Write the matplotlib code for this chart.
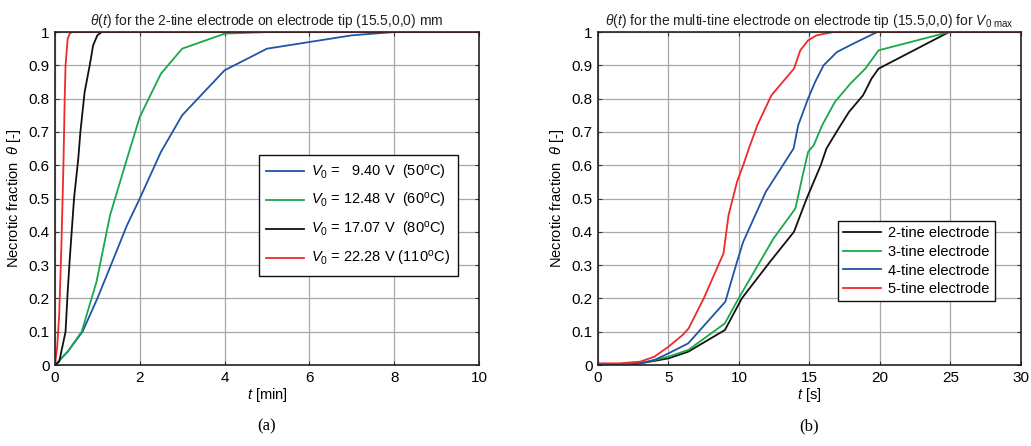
import numpy as np
import matplotlib
matplotlib.use("Agg")
import matplotlib.pyplot as plt

plt.rcParams['font.family'] = ['Liberation Sans', 'DejaVu Sans']
plt.rcParams['mathtext.fontset'] = 'custom'
plt.rcParams['mathtext.rm'] = 'Liberation Sans'
plt.rcParams['mathtext.it'] = 'Liberation Sans:italic'
plt.rcParams['mathtext.sf'] = 'Liberation Sans'

# ---- panel (a): 2-tine electrode, time in minutes ----
t_blue_a = [0, 0.3, 0.65, 1.0, 1.32, 1.7, 2.0, 2.5, 3.0, 4.0, 5.0, 6.0, 7.0, 8.0, 10.0]
th_blue_a = [0, 0.04, 0.1, 0.2, 0.3, 0.42, 0.5, 0.64, 0.75, 0.885, 0.95, 0.97, 0.99, 1.0, 1.0]

t_green_a = [0, 0.3, 0.63, 0.98, 1.3, 1.7, 2.0, 2.5, 3.0, 4.0, 5.0, 10.0]
th_green_a = [0, 0.04, 0.1, 0.25, 0.45, 0.62, 0.745, 0.875, 0.95, 0.995, 1.0, 1.0]

t_black_a = [0, 0.1, 0.2, 0.25, 0.3, 0.35, 0.45, 0.55, 0.6, 0.7, 0.82, 0.9, 1.0, 1.1, 10.0]
th_black_a = [0, 0.01, 0.07, 0.1, 0.22, 0.32, 0.5, 0.62, 0.7, 0.82, 0.9, 0.96, 0.99, 1.0, 1.0]

t_red_a = [0, 0.05, 0.1, 0.15, 0.2, 0.23, 0.25, 0.3, 0.35, 0.4, 10.0]
th_red_a = [0, 0.05, 0.15, 0.35, 0.6, 0.8, 0.9, 0.98, 0.995, 1.0, 1.0]

labels_a = [r'$V_0$ =   9.40 V  (50$^{\rm o}$C)',
            r'$V_0$ = 12.48 V  (60$^{\rm o}$C)',
            r'$V_0$ = 17.07 V  (80$^{\rm o}$C)',
            r'$V_0$ = 22.28 V (110$^{\rm o}$C)']

# ---- panel (b): multi-tine electrodes, time in seconds ----
t_2tine = [0, 3, 5, 6.4, 9.0, 10.2, 12.2, 13.9, 14.8, 15.8, 16.2, 17.06, 17.8, 18.8, 19.4, 19.9, 24.9, 30]
th_2tine = [0, 0.005, 0.02, 0.04, 0.105, 0.2, 0.31, 0.4, 0.5, 0.6, 0.65, 0.71, 0.76, 0.81, 0.86, 0.89, 1.0, 1.0]

t_3tine = [0, 3, 5, 6.4, 9.0, 9.97, 12.45, 14.0, 14.47, 14.9, 15.3, 15.9, 16.8, 17.9, 18.96, 19.9, 24.9, 30]
th_3tine = [0, 0.005, 0.025, 0.045, 0.125, 0.2, 0.38, 0.47, 0.56, 0.64, 0.66, 0.72, 0.79, 0.845, 0.89, 0.945, 1.0, 1.0]

t_4tine = [0, 2, 3, 4, 5, 6.4, 9.03, 9.86, 10.3, 11.9, 13.87, 14.2, 14.9, 15.4, 16.0, 16.95, 18.1, 19.8, 30]
th_4tine = [0, 0.0, 0.005, 0.015, 0.035, 0.065, 0.19, 0.31, 0.37, 0.52, 0.65, 0.72, 0.8, 0.85, 0.9, 0.94, 0.965, 1.0, 1.0]

t_5tine = [0, 1.5, 3, 4, 5, 6, 6.43, 7.5, 8.9, 9.26, 9.86, 10.3, 10.7, 11.3, 12.3, 13.9, 14.35, 14.9, 15.5, 16.7, 30]
th_5tine = [0.005, 0.005, 0.01, 0.025, 0.055, 0.09, 0.11, 0.2, 0.335, 0.45, 0.55, 0.6, 0.65, 0.72, 0.81, 0.89, 0.945, 0.975, 0.99, 1.0, 1.0]

labels_b = ['2-tine electrode', '3-tine electrode', '4-tine electrode', '5-tine electrode']

c_blue = '#1f55a8'
c_green = '#19a84a'
c_black = '#111111'
c_red = '#ee2a2a'
lw = 1.3

fig = plt.figure(figsize=(10.31, 4.46), dpi=100)
ax1 = fig.add_axes([0.0533, 0.1816, 0.4113, 0.7466])
ax2 = fig.add_axes([0.58, 0.1816, 0.4103, 0.7466])


def style_axes(ax):
    ax.grid(True, color='#a8a8a8', linewidth=0.9)
    ax.set_axisbelow(True)
    ax.tick_params(direction='in', top=True, right=True, labelsize=11,
                   length=3, width=0.8, color='#333333', pad=4)
    for s in ax.spines.values():
        s.set_linewidth(1.2)
        s.set_color('#222222')
    ax.set_ylim(0, 1)
    ax.set_yticks(np.arange(0, 1.01, 0.1))
    ax.set_yticklabels(['0', '0.1', '0.2', '0.3', '0.4', '0.5', '0.6', '0.7', '0.8', '0.9', '1'])
    ax.set_ylabel(r'Necrotic fraction  $\theta$ [-]', fontsize=10.5, labelpad=4)


ax1.plot(t_blue_a, th_blue_a, color=c_blue, lw=lw, label=labels_a[0])
ax1.plot(t_green_a, th_green_a, color=c_green, lw=lw, label=labels_a[1])
ax1.plot(t_black_a, th_black_a, color=c_black, lw=lw, label=labels_a[2])
ax1.plot(t_red_a, th_red_a, color=c_red, lw=lw, label=labels_a[3])
style_axes(ax1)
ax1.set_xlim(0, 10)
ax1.set_xticks(range(0, 11, 2))
ax1.set_xlabel(r'$t$ [min]', fontsize=10.5, labelpad=1)
ax1.set_title(r'$\theta$($t$) for the 2-tine electrode on electrode tip (15.5,0,0) mm',
              fontsize=10, pad=5, color='#222222')
leg1 = ax1.legend(loc='upper left', bbox_to_anchor=(0.481, 0.63), fontsize=10.5,
                  frameon=True, fancybox=False, edgecolor='#111111', framealpha=1,
                  handlelength=2.6, handletextpad=0.5, labelspacing=0.68,
                  borderpad=0.5, borderaxespad=0)
leg1.get_frame().set_linewidth(1.0)

ax2.plot(t_2tine, th_2tine, color=c_black, lw=lw, label=labels_b[0])
ax2.plot(t_3tine, th_3tine, color=c_green, lw=lw, label=labels_b[1])
ax2.plot(t_4tine, th_4tine, color=c_blue, lw=lw, label=labels_b[2])
ax2.plot(t_5tine, th_5tine, color=c_red, lw=lw, label=labels_b[3])
style_axes(ax2)
ax2.set_xlim(0, 30)
ax2.set_xticks(range(0, 31, 5))
ax2.set_xlabel(r'$t$ [s]', fontsize=10.5, labelpad=1)
ax2.set_title(r'$\theta$($t$) for the multi-tine electrode on electrode tip (15.5,0,0) for $V_{\rm 0\ max}$',
              fontsize=10, pad=5, color='#222222')
leg2 = ax2.legend(loc='upper left', bbox_to_anchor=(0.567, 0.432), fontsize=10.5,
                  frameon=True, fancybox=False, edgecolor='#111111', framealpha=1,
                  handlelength=2.6, handletextpad=0.5, labelspacing=0.32,
                  borderpad=0.35, borderaxespad=0)
leg2.get_frame().set_linewidth(1.0)

fig.text(0.259, 0.035, '(a)', family='Liberation Serif', fontsize=12, ha='center')
fig.text(0.785, 0.035, '(b)', family='Liberation Serif', fontsize=12, ha='center')

fig.savefig('out.png', dpi=100)
